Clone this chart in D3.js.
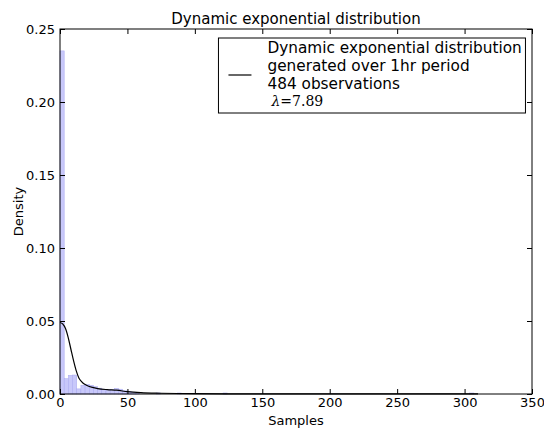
<!DOCTYPE html>
<html>
<head>
<meta charset="utf-8">
<script src="https://cdn.jsdelivr.net/npm/d3@7"></script>
<style>
  body { margin: 0; background: #fff; }
  text { font-family: "DejaVu Sans", sans-serif; }
</style>
</head>
<body>
<div id="chart"></div>
<script>
// histogram bins (start of bin, width 3.1) and density heights
const binStarts = [0, 3.1, 6.2, 9.3, 12.4, 15.5, 18.6, 21.7, 24.8, 27.9, 31.0, 34.1, 37.2, 40.3, 43.4, 46.5, 49.6, 52.7, 55.8, 71.3, 86.8, 120.9, 303.8];
const binDensity = [0.235, 0.0105, 0.0128, 0.013, 0.0035, 0.006, 0.0065, 0.006, 0.005, 0.004, 0.0033, 0.003, 0.003, 0.0038, 0.0033, 0.0022, 0.0018, 0.0013, 0.0007, 0.0007, 0.0007, 0.0007, 0.0007];
const binWidth = 3.1;

// fitted density curve
const curveX = [0, 2, 4, 6, 8, 10, 12, 14, 16, 18, 20, 24, 28, 35, 42, 50, 60, 75, 100, 150, 200, 250, 310];
const curveY = [0.049, 0.048, 0.045, 0.039, 0.031, 0.023, 0.016, 0.011, 0.0085, 0.0068, 0.0058, 0.0045, 0.0037, 0.003, 0.0026, 0.0016, 0.0009, 0.0005, 0.0002, 0.0001, 0.00005, 0.00003, 0.00002];

const xTicks = [0, 50, 100, 150, 200, 250, 300, 350];
const yTicks = [0, 0.05, 0.10, 0.15, 0.20, 0.25];
const legendLines = ["Dynamic exponential distribution", "generated over 1hr period", "484 observations"];

const margin = {top: 29, right: 12, bottom: 36, left: 60},
    width = 544 - margin.left - margin.right,
    height = 430 - margin.top - margin.bottom;

const svg = d3.select("#chart")
    .append("svg")
    .attr("width", 544)
    .attr("height", 430)
    .append("g")
    .attr("transform", `translate(${margin.left},${margin.top})`);

const x = d3.scaleLinear().domain([0, 350]).range([0, width]);
const y = d3.scaleLinear().domain([0, 0.25]).range([height, 0]);

// bars
svg.selectAll(".bar")
    .data(binStarts.map((s, i) => ({s: s, d: binDensity[i]})))
    .enter()
    .append("rect")
    .attr("class", "bar")
    .attr("x", d => x(d.s))
    .attr("y", d => y(d.d))
    .attr("width", x(binWidth) - x(0))
    .attr("height", d => y(0) - y(d.d))
    .style("fill", "#c8c8fa")
    .style("stroke", "#a8a8f0")
    .style("stroke-width", 0.5);

// curve
const line = d3.line()
    .x(d => x(d[0]))
    .y(d => y(d[1]))
    .curve(d3.curveMonotoneX);

svg.append("path")
    .datum(curveX.map((v, i) => [v, curveY[i]]))
    .attr("d", line)
    .style("fill", "none")
    .style("stroke", "#000")
    .style("stroke-width", 1.2);

// axes (ticks pointing inward, mirrored on top/right)
const tickLen = 5;
const xAxis = svg.append("g")
    .attr("transform", `translate(0,${height})`)
    .call(d3.axisBottom(x).tickValues(xTicks).tickFormat(d3.format("d")).tickSizeInner(-tickLen).tickSizeOuter(0).tickPadding(4));
const xTop = svg.append("g")
    .call(d3.axisTop(x).tickValues(xTicks).tickFormat("").tickSizeInner(-tickLen).tickSizeOuter(0));
const yAxis = svg.append("g")
    .call(d3.axisLeft(y).tickValues(yTicks).tickFormat(d3.format(".2f")).tickSizeInner(-tickLen).tickSizeOuter(0).tickPadding(5));
const yRight = svg.append("g")
    .attr("transform", `translate(${width},0)`)
    .call(d3.axisRight(y).tickValues(yTicks).tickFormat("").tickSizeInner(-tickLen).tickSizeOuter(0));

[xAxis, xTop, yAxis, yRight].forEach(g => {
    g.select(".domain").remove();
    g.selectAll("line").style("stroke", "#000");
    g.selectAll("text").style("font-size", "13px").style("fill", "#000");
});

svg.append("rect")
    .attr("width", width)
    .attr("height", height)
    .style("fill", "none")
    .style("stroke", "#000")
    .style("stroke-width", 1);

// labels
svg.append("text")
    .attr("x", width / 2)
    .attr("y", -5)
    .attr("text-anchor", "middle")
    .style("font-size", "15px")
    .text("Dynamic exponential distribution");

svg.append("text")
    .attr("x", width / 2)
    .attr("y", height + 31)
    .attr("text-anchor", "middle")
    .style("font-size", "13px")
    .text("Samples");

svg.append("text")
    .attr("transform", `translate(-37,${height / 2}) rotate(-90)`)
    .attr("text-anchor", "middle")
    .style("font-size", "13px")
    .text("Density");

// legend
const legend = svg.append("g")
    .attr("transform", `translate(${x(117.5)},9)`);

legend.append("rect")
    .attr("width", 307)
    .attr("height", 75)
    .style("fill", "#fff")
    .style("stroke", "#000")
    .style("stroke-width", 1);

legend.append("line")
    .attr("x1", 10).attr("x2", 33)
    .attr("y1", 37).attr("y2", 37)
    .style("stroke", "#000")
    .style("stroke-width", 1.2);

legend.selectAll(".legtext")
    .data(legendLines)
    .enter()
    .append("text")
    .attr("class", "legtext")
    .attr("x", 49)
    .attr("y", (d, i) => 15 + i * 18)
    .style("font-size", "15.3px")
    .text(d => d);

const lam = legend.append("text")
    .attr("x", 53)
    .attr("y", 68)
    .style("font-family", "'DejaVu Serif', serif")
    .style("font-size", "14px");
lam.append("tspan").style("font-style", "italic").text("λ");
lam.append("tspan").text("=7.89");
</script>
</body>
</html>
